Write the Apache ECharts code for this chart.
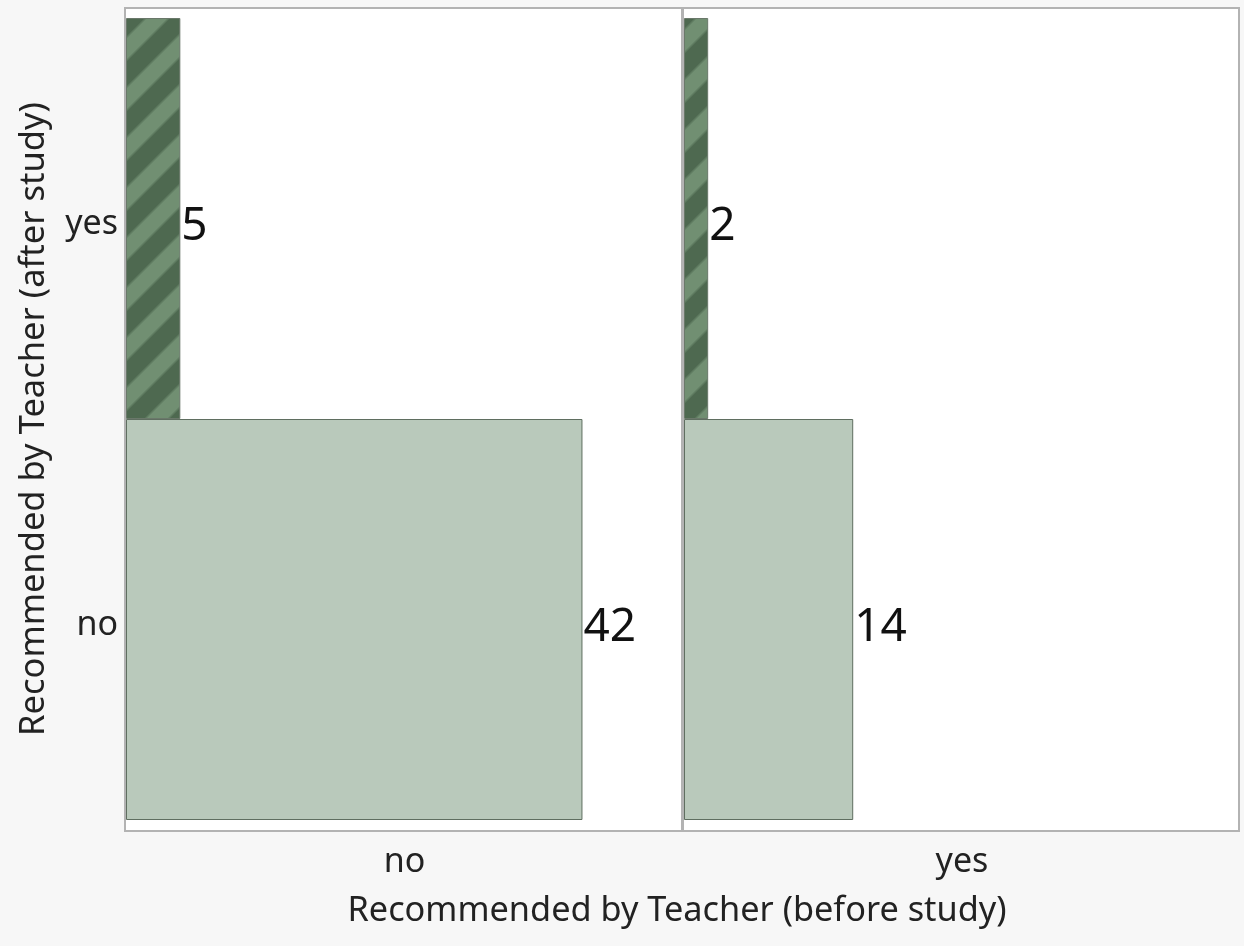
<!DOCTYPE html>
<html>
<head>
<meta charset="utf-8">
<script src="https://cdn.jsdelivr.net/npm/echarts@6/dist/echarts.min.js"></script>
<style>
  html, body { margin: 0; padding: 0; background: #f7f7f7; }
  #chart { width: 1244px; height: 946px; }
</style>
</head>
<body>
<div id="chart"></div>
<script>
// Recommendation after study (rows) split by recommendation before study (panels)
const afterCategories = ['no', 'yes'];           // bottom to top
const beforeCategories = ['no', 'yes'];          // left panel, right panel
const countsBeforeNo = [42, 5];                  // after: no, yes
const countsBeforeYes = [14, 2];                 // after: no, yes
const yAxisTitle = 'Recommended by Teacher (after study)';
const xAxisTitle = 'Recommended by Teacher (before study)';

const FONT = 'Noto Sans';

// seamless diagonal stripe tile ("/" direction) for the "yes" bars
function stripeTile() {
  const s = 50;
  const c = document.createElement('canvas');
  c.width = s; c.height = s;
  const ctx = c.getContext('2d');
  const img = ctx.createImageData(s, s);
  const dark = [78, 105, 80], light = [113, 143, 114];
  for (let y = 0; y < s; y++) {
    for (let x = 0; x < s; x++) {
      const m = ((x + y) % s + 0.5) / s;           // position across one period
      const t = Math.abs(m - 0.5) * 2;             // 0 at stripe centre, 1 at edge
      let f = (0.46 - t) / 0.16 + 0.5;             // soft edge
      f = Math.max(0, Math.min(1, f));
      const i = (y * s + x) * 4;
      for (let k = 0; k < 3; k++) img.data[i + k] = Math.round(dark[k] + (light[k] - dark[k]) * f);
      img.data[i + 3] = 255;
    }
  }
  ctx.putImageData(img, 0, 0);
  return c;
}
const stripes = { image: stripeTile(), repeat: 'repeat' };

function barData(values) {
  return values.map((v, i) => ({
    value: v,
    itemStyle: afterCategories[i] === 'yes'
      ? { color: stripes, borderColor: '#6a786a', borderWidth: 1 }
      : { color: '#b9c9bb', borderColor: '#5f6e60', borderWidth: 1 }
  }));
}

const panelsX = [126, 684];
const panelW = [557, 556];
const panelMax = [51.25, 46];
const panelCounts = [countsBeforeNo, countsBeforeYes];

const chart = echarts.init(document.getElementById('chart'), null, { renderer: 'canvas' });

const grids = [], xAxes = [], yAxes = [], series = [];
beforeCategories.forEach((name, p) => {
  grids.push({ left: panelsX[p], width: panelW[p], top: 18, height: 802 });
  xAxes.push({
    type: 'value', gridIndex: p, min: 0, max: panelMax[p],
    axisLine: { show: false }, axisTick: { show: false },
    axisLabel: { show: false }, splitLine: { show: false },
    name: name, nameLocation: 'middle', nameGap: 25,
    nameTextStyle: { fontFamily: FONT, fontSize: 34, color: '#222' }
  });
  yAxes.push({
    type: 'category', gridIndex: p, data: afterCategories,
    axisLine: { show: false }, axisTick: { show: false },
    splitLine: { show: false },
    axisLabel: {
      show: p === 0, margin: 8,
      formatter: v => '{c|' + v + '}',
      rich: { c: { fontFamily: FONT, fontSize: 34, color: '#222', padding: [11, 0, 0, 0] } }
    },
    name: p === 0 ? yAxisTitle : '', nameLocation: 'middle', nameGap: 74,
    nameRotate: 90,
    nameTextStyle: { fontFamily: FONT, fontSize: 34.5, color: '#222' }
  });
  series.push({
    type: 'bar', xAxisIndex: p, yAxisIndex: p,
    data: barData(panelCounts[p]),
    barWidth: '100%', barCategoryGap: 0,
    label: {
      show: true, position: 'right', distance: 1, offset: [0, 8],
      fontFamily: FONT, fontSize: 46, color: '#111'
    },
    silent: true, animation: false
  });
});

// panel frames
const frames = beforeCategories.map((_, p) => ({
  type: 'rect', z: -1,
  shape: { x: panelsX[p] - 1, y: 8, width: panelW[p], height: 823 },
  style: { fill: '#ffffff', stroke: '#b3b3b3', lineWidth: 2 }
}));

chart.setOption({
  backgroundColor: '#f7f7f7',
  animation: false,
  grid: grids,
  xAxis: xAxes,
  yAxis: yAxes,
  series: series,
  title: {
    text: xAxisTitle, left: 672, textAlign: 'center', top: 889,
    textStyle: { fontFamily: FONT, fontSize: 34.3, fontWeight: 'normal', color: '#222' }
  },
  graphic: frames
});
</script>
</body>
</html>
